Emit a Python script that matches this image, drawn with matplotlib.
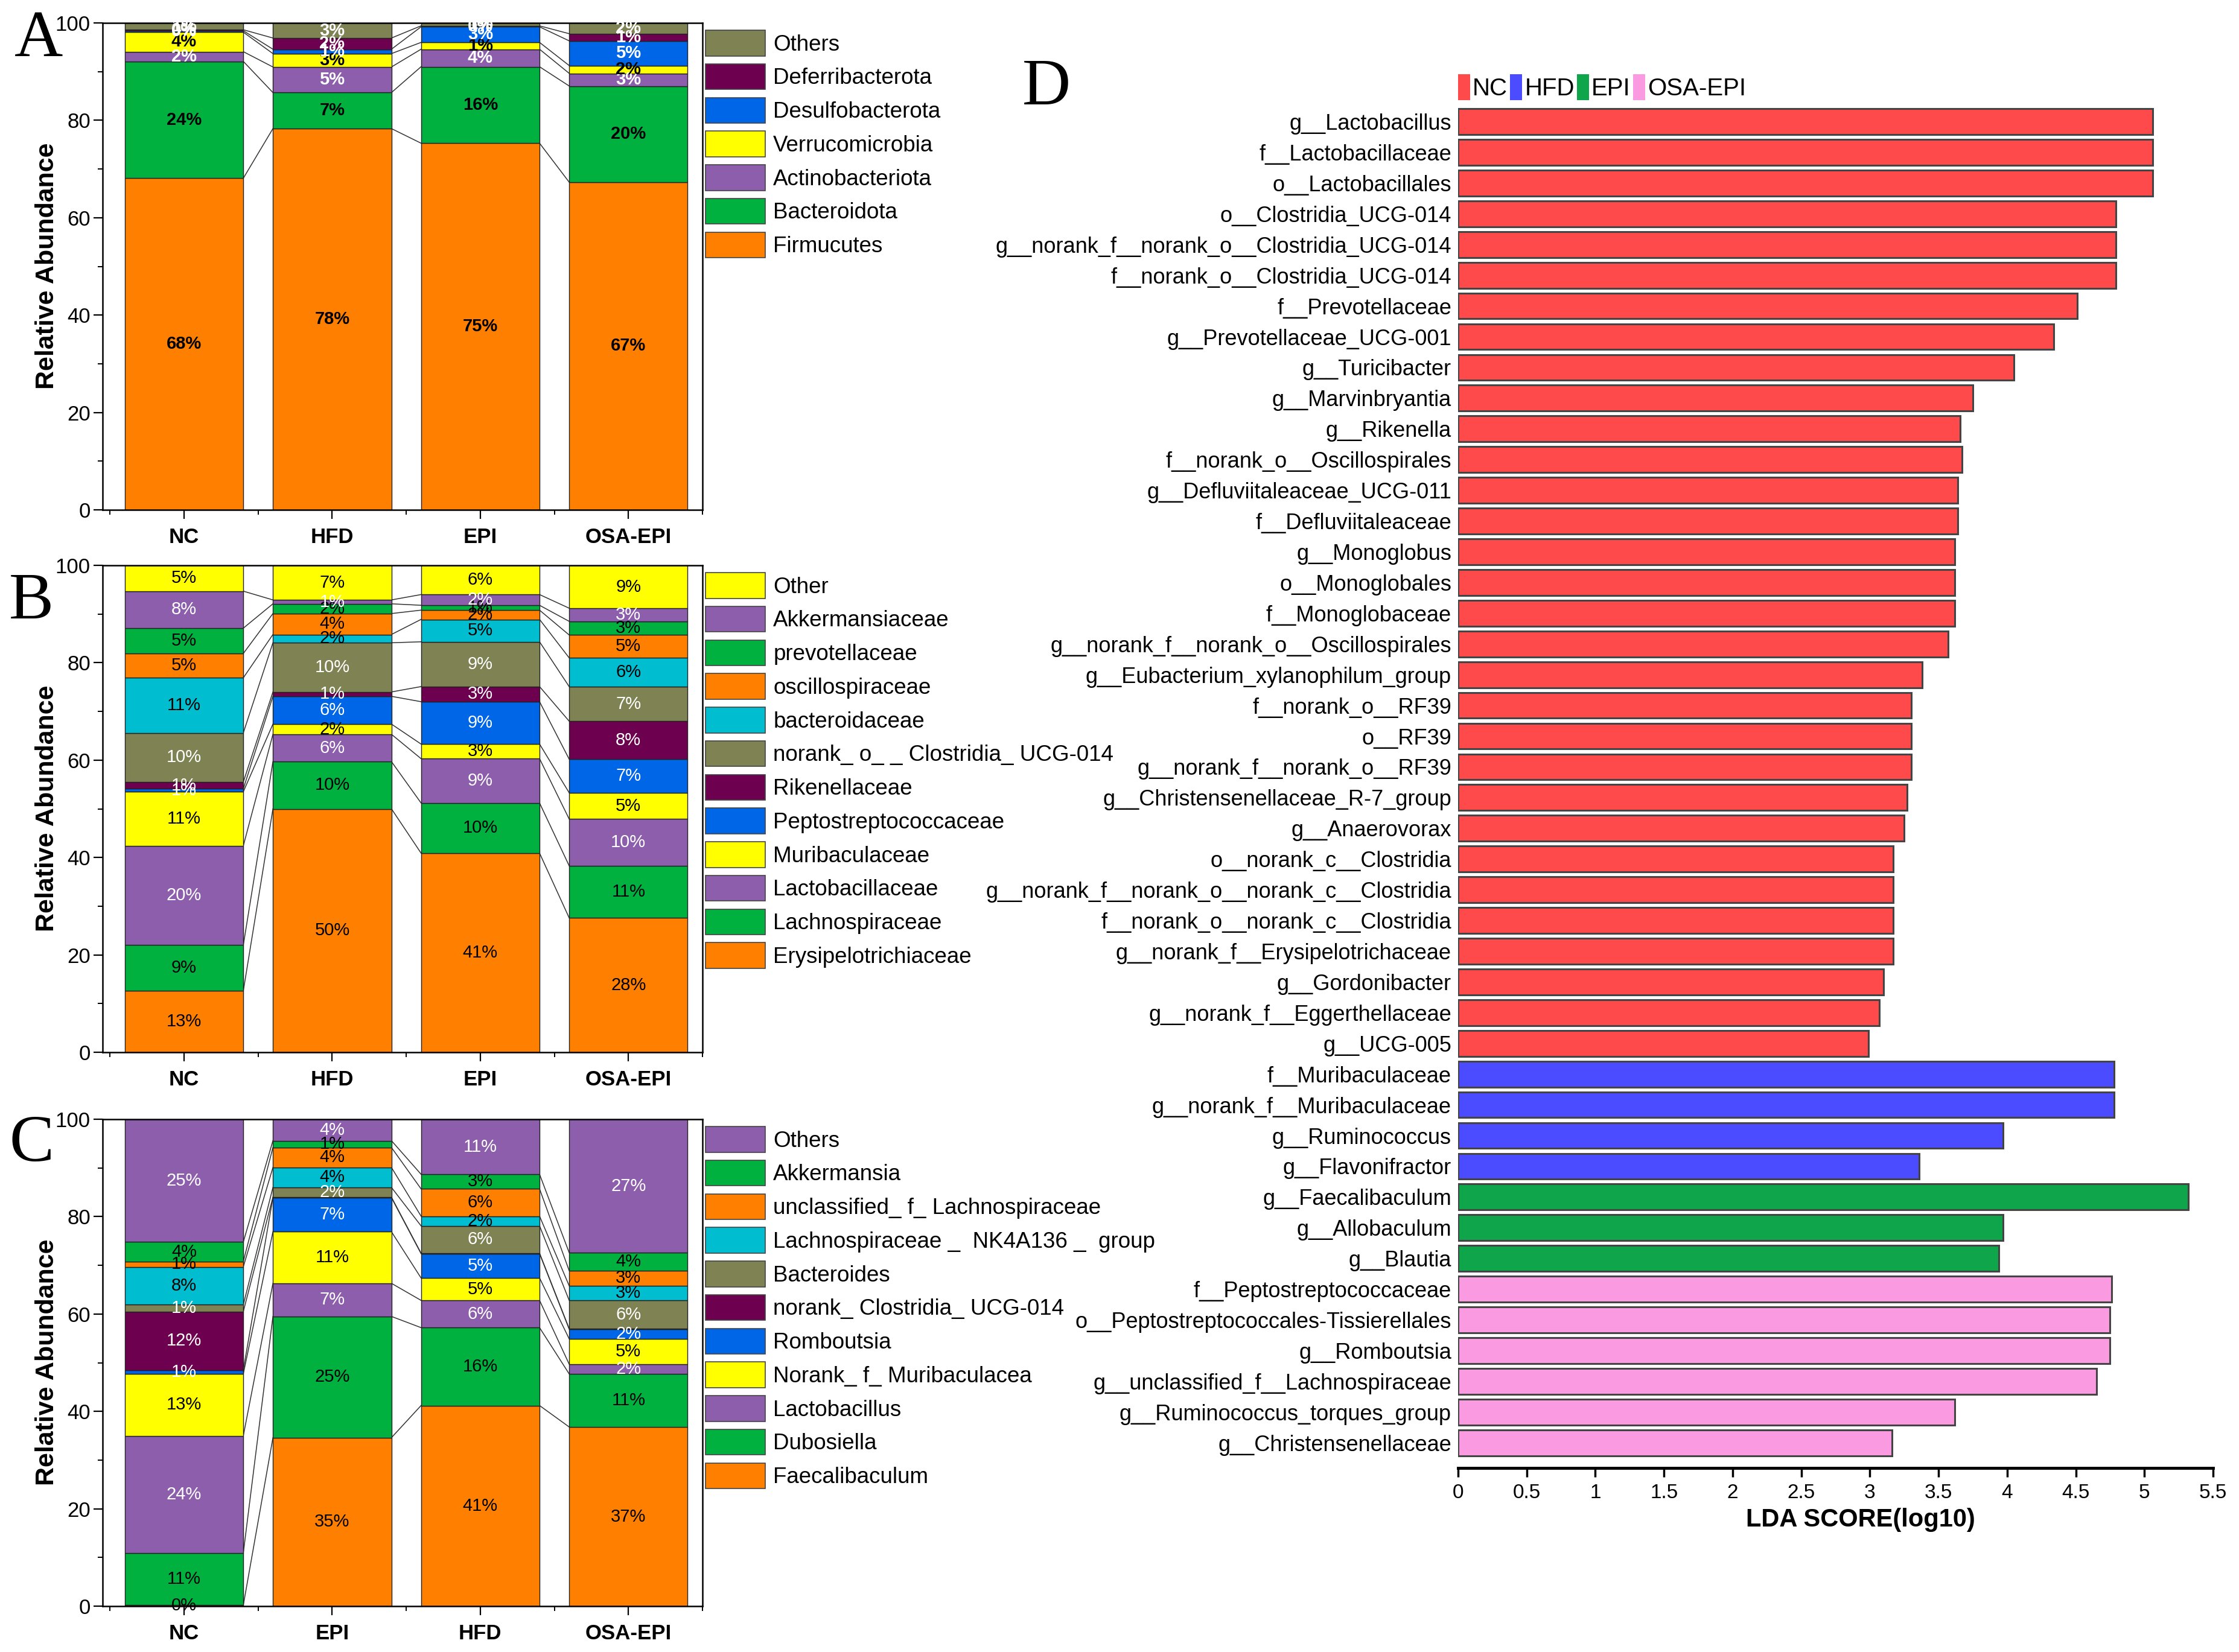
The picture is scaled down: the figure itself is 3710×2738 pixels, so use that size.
import matplotlib
matplotlib.use('Agg')
import matplotlib.pyplot as plt
from matplotlib.patches import Patch
import numpy as np

NARROW = ['Liberation Sans Narrow', 'Liberation Sans', 'DejaVu Sans']
SANS = ['Liberation Sans', 'DejaVu Sans']
SERIF = ['Liberation Serif', 'DejaVu Serif']
plt.rcParams['font.family'] = NARROW

# ---- data ----
groups_ab = ['NC', 'HFD', 'EPI', 'OSA-EPI']
groups_c = ['NC', 'EPI', 'HFD', 'OSA-EPI']

# panel A: phylum, bottom -> top
phylum_names = ['Firmucutes', 'Bacteroidota', 'Actinobacteriota', 'Verrucomicrobia',
                'Desulfobacterota', 'Deferribacterota', 'Others']
phylum_vals = [
    [68.1, 24.0, 2.0, 4.0, 0.3, 0.2, 1.4],   # NC
    [78.3, 7.4, 5.25, 2.75, 0.9, 2.3, 3.1],  # HFD
    [75.3, 15.7, 3.6, 1.4, 3.2, 0.2, 0.6],   # EPI
    [67.3, 19.75, 2.6, 1.6, 5.07, 1.47, 2.2],  # OSA-EPI
]

# panel B: family, bottom -> top
family_names = ['Erysipelotrichiaceae', 'Lachnospiraceae', 'Lactobacillaceae', 'Muribaculaceae',
                'Peptostreptococcaceae', 'Rikenellaceae', 'norank_ o_ _ Clostridia_ UCG-014',
                'bacteroidaceae', 'oscillospiraceae', 'prevotellaceae', 'Akkermansiaceae', 'Other']
family_vals = [
    [12.6, 9.4, 20.4, 11.1, 0.6, 1.4, 10.1, 11.3, 5.0, 5.2, 7.6, 5.3],   # NC
    [50.0, 9.7, 5.6, 2.1, 5.7, 0.9, 10.1, 1.7, 4.3, 2.0, 0.8, 7.1],      # HFD
    [40.9, 10.3, 9.1, 3.0, 8.7, 3.1, 9.2, 4.6, 1.9, 1.0, 2.2, 6.0],      # EPI
    [27.6, 10.7, 9.6, 5.4, 6.9, 7.8, 7.1, 5.9, 4.7, 2.8, 2.7, 8.8],      # OSA-EPI
]

# panel C: genus, bottom -> top
genus_names = ['Faecalibaculum', 'Dubosiella', 'Lactobacillus', 'Norank_ f_ Muribaculacea',
               'Romboutsia', 'norank_ Clostridia_ UCG-014', 'Bacteroides',
               'Lachnospiraceae _  NK4A136 _  group', 'unclassified_ f_ Lachnospiraceae',
               'Akkermansia', 'Others']
genus_vals = [
    [0.2, 10.7, 24.1, 12.7, 0.8, 12.0, 1.4, 7.8, 1.1, 4.0, 25.2],   # NC
    [34.6, 24.9, 6.8, 10.6, 7.0, 0.1, 2.0, 4.1, 4.1, 1.4, 4.4],     # EPI
    [41.2, 16.0, 5.6, 4.6, 5.0, 0.1, 5.6, 2.0, 5.6, 3.0, 11.3],     # HFD
    [36.8, 10.9, 2.0, 5.2, 2.0, 0.1, 5.8, 3.0, 3.1, 3.7, 27.4],     # OSA-EPI
]

# panel D: LEfSe, top -> bottom
lda_names = ['g__Lactobacillus', 'f__Lactobacillaceae', 'o__Lactobacillales',
             'o__Clostridia_UCG-014', 'g__norank_f__norank_o__Clostridia_UCG-014',
             'f__norank_o__Clostridia_UCG-014', 'f__Prevotellaceae', 'g__Prevotellaceae_UCG-001',
             'g__Turicibacter', 'g__Marvinbryantia', 'g__Rikenella', 'f__norank_o__Oscillospirales',
             'g__Defluviitaleaceae_UCG-011', 'f__Defluviitaleaceae', 'g__Monoglobus',
             'o__Monoglobales', 'f__Monoglobaceae', 'g__norank_f__norank_o__Oscillospirales',
             'g__Eubacterium_xylanophilum_group', 'f__norank_o__RF39', 'o__RF39',
             'g__norank_f__norank_o__RF39', 'g__Christensenellaceae_R-7_group', 'g__Anaerovorax',
             'o__norank_c__Clostridia', 'g__norank_f__norank_o__norank_c__Clostridia',
             'f__norank_o__norank_c__Clostridia', 'g__norank_f__Erysipelotrichaceae',
             'g__Gordonibacter', 'g__norank_f__Eggerthellaceae', 'g__UCG-005',
             'f__Muribaculaceae', 'g__norank_f__Muribaculaceae', 'g__Ruminococcus',
             'g__Flavonifractor',
             'g__Faecalibaculum', 'g__Allobaculum', 'g__Blautia',
             'f__Peptostreptococcaceae', 'o__Peptostreptococcales-Tissierellales', 'g__Romboutsia',
             'g__unclassified_f__Lachnospiraceae', 'g__Ruminococcus_torques_group',
             'g__Christensenellaceae']
lda_scores = [5.06, 5.06, 5.06, 4.79, 4.79, 4.79, 4.51, 4.34, 4.05, 3.75, 3.66, 3.67,
              3.64, 3.64, 3.62, 3.62, 3.62, 3.57, 3.38, 3.30, 3.30, 3.30, 3.27, 3.25,
              3.17, 3.17, 3.17, 3.17, 3.10, 3.07, 2.99,
              4.78, 4.78, 3.97, 3.36,
              5.32, 3.97, 3.94,
              4.76, 4.75, 4.75, 4.65, 3.62, 3.16]
lda_groups = ['NC'] * 31 + ['HFD'] * 4 + ['EPI'] * 3 + ['OSA-EPI'] * 6
lda_legend = ['NC', 'HFD', 'EPI', 'OSA-EPI']

# ---- styles ----
ORANGE = '#FF8000'
GREEN = '#00B140'
PURPLE = '#8C5EAC'
YELLOW = '#FFFF00'
BLUE = '#0066E8'
DPURPLE = '#6E0050'
OLIVE = '#7F8253'
CYAN = '#00BDD0'

phylum_colors = [ORANGE, GREEN, PURPLE, YELLOW, BLUE, DPURPLE, OLIVE]
phylum_text = ['k', 'k', 'w', 'k', 'w', 'w', 'w']
family_colors = [ORANGE, GREEN, PURPLE, YELLOW, BLUE, DPURPLE, OLIVE, CYAN, ORANGE, GREEN, PURPLE, YELLOW]
family_text = ['k', 'k', 'w', 'k', 'w', 'w', 'w', 'k', 'k', 'k', 'w', 'k']
genus_colors = [ORANGE, GREEN, PURPLE, YELLOW, BLUE, DPURPLE, OLIVE, CYAN, ORANGE, GREEN, PURPLE]
genus_text = ['k', 'k', 'w', 'k', 'w', 'w', 'w', 'k', 'k', 'k', 'w']
lda_colors = {'NC': '#FF4A4C', 'HFD': '#4B4BFF', 'EPI': '#0FA54A', 'OSA-EPI': '#FA9BE2'}

W, H = 3710, 2738
fig = plt.figure(figsize=(W / 100, H / 100), dpi=100)


def stack_panel(rect, groups, names, vals, colors, tcolors, bold=False):
    ax = fig.add_axes(rect)
    vals = np.array(vals)
    x = np.arange(1, len(groups) + 1)
    bots = np.cumsum(vals, axis=1) - vals
    tops = bots + vals
    bw = 0.8
    for j in range(vals.shape[1]):
        ax.bar(x, vals[:, j], bottom=bots[:, j], width=bw, color=colors[j],
               edgecolor='#222222', linewidth=1.0, zorder=2)
        for i in range(len(x)):
            v = vals[i, j]
            if v >= 0.15:
                ax.text(x[i], bots[i, j] + v / 2, f'{v:.0f}%', ha='center', va='center',
                        fontsize=21, color=tcolors[j], zorder=4,
                        fontweight='bold' if bold else 'normal')
    # connecting lines between neighbouring bars
    for i in range(len(x) - 1):
        for j in range(vals.shape[1] - 1):
            ax.plot([x[i] + bw / 2, x[i + 1] - bw / 2], [tops[i, j], tops[i + 1, j]],
                    color='#333333', lw=1.1, zorder=1)
    ax.set_xlim(0.45, 4.5)
    ax.set_ylim(0, 100)
    ax.set_xticks(x, groups, fontweight='bold')
    ax.set_xticks(np.arange(0.5, 4.6, 1.0), minor=True)
    ax.set_yticks([0, 20, 40, 60, 80, 100])
    ax.set_yticks([10, 30, 50, 70, 90], minor=True)
    ax.tick_params(axis='both', which='major', labelsize=25, length=11, width=1.6, direction='out')
    ax.tick_params(axis='both', which='minor', length=6, width=1.4, direction='out')
    ax.tick_params(axis='x', pad=10)
    for s in ax.spines.values():
        s.set_linewidth(1.8)
    handles = [Patch(facecolor=c, edgecolor='#444444', linewidth=1.2) for c in colors]
    ax.legend(handles[::-1], names[::-1], loc='upper left', bbox_to_anchor=(1.005, 0.985),
              frameon=False, prop={'family': SANS, 'size': 26.5},
              handlelength=2.7, handleheight=1.4, labelspacing=0.36, handletextpad=0.35,
              borderaxespad=0.0, borderpad=0.0)
    return ax


left = 170 / W
aw = 994 / W
ah = 807 / H
axA = stack_panel([left, 1 - 845 / H, aw, ah], groups_ab, phylum_names, phylum_vals,
                  phylum_colors, phylum_text, bold=True)
axB = stack_panel([left, 1 - 1744 / H, aw, ah], groups_ab, family_names, family_vals,
                  family_colors, family_text)
axC = stack_panel([left, 1 - 2662 / H, aw, ah], groups_c, genus_names, genus_vals,
                  genus_colors, genus_text)

for yc in [441, 1340, 2258]:
    fig.text(78 / W, 1 - yc / H, 'Relative Abundance', rotation=90, ha='center', va='center',
             fontsize=31, fontweight='bold', family=SANS)

# panel letters
for lab, (px, py) in zip('ABCD', [(64, 66), (52, 998), (52, 1897), (1734, 146)]):
    fig.text(px / W, 1 - py / H, lab, ha='center', va='center', fontsize=80, family=SERIF)

# ---- panel D ----
axD = fig.add_axes([2416 / W, 1 - 2433 / H, 1251 / W, (2433 - 171) / H])
yy = np.arange(len(lda_names))
axD.barh(yy, lda_scores, height=0.84, color=[lda_colors[g] for g in lda_groups],
         edgecolor='#444444', linewidth=2.2)
axD.set_xlim(0, 5.5)
axD.set_ylim(len(lda_names) - 1 + 0.82, -0.6)
axD.set_yticks(yy, lda_names)
axD.set_xticks(np.arange(0, 5.51, 0.5), ['0', '0.5', '1', '1.5', '2', '2.5', '3', '3.5', '4',
                                           '4.5', '5', '5.5'])
axD.tick_params(axis='y', length=0, pad=8, labelsize=26)
axD.tick_params(axis='x', length=11, width=2.5, labelsize=24, pad=8)
for s in ['left', 'top', 'right']:
    axD.spines[s].set_visible(False)
axD.spines['bottom'].set_linewidth(3.5)
axD.set_xlabel('LDA SCORE(log10)', fontsize=30, fontweight='bold', labelpad=6)
axD.xaxis.label.set_x(0.533)
lh = [Patch(facecolor=lda_colors[g], edgecolor='none') for g in lda_legend]
axD.legend(lh, lda_legend, ncol=4, loc='lower left', bbox_to_anchor=(0.0, 1.002),
           frameon=False, prop={'family': NARROW, 'size': 29}, handlelength=0.5,
           handleheight=1.3, handletextpad=0.1, columnspacing=0.1, borderaxespad=0.0,
           borderpad=0.0)

fig.savefig('out.png', dpi=100)
